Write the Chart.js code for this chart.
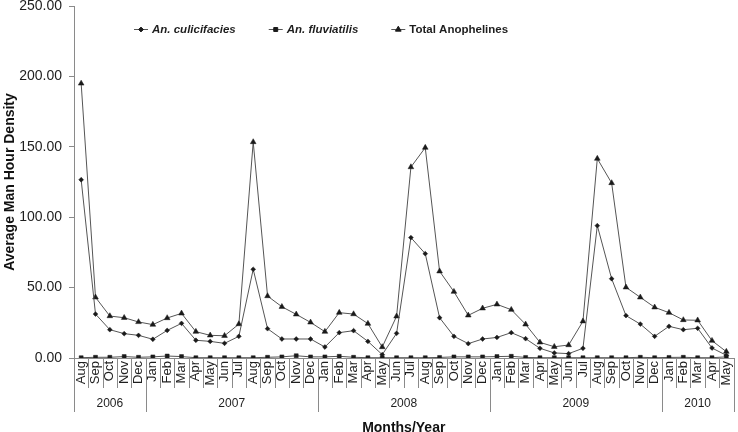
<!DOCTYPE html>
<html>
<head>
<meta charset="utf-8">
<script src="https://cdn.jsdelivr.net/npm/chart.js@4/dist/chart.umd.min.js"></script>
<style>
html,body{margin:0;padding:0;background:#ffffff;}
#wrap{width:738px;height:432px;position:relative;}
</style>
</head>
<body>
<div id="wrap"><canvas id="c" width="738" height="432"></canvas></div>
<script>
const months = [
  'Aug','Sep','Oct','Nov','Dec',
  'Jan','Feb','Mar','Apr','May','Jun','Jul','Aug','Sep','Oct','Nov','Dec',
  'Jan','Feb','Mar','Apr','May','Jun','Jul','Aug','Sep','Oct','Nov','Dec',
  'Jan','Feb','Mar','Apr','May','Jun','Jul','Aug','Sep','Oct','Nov','Dec',
  'Jan','Feb','Mar','Apr','May'
];
const yearLabels = ['2006','2007','2008','2009','2010'];
const monthsPerYear = [5, 12, 12, 12, 5];

const culicifacies = [
  126.6, 31.2, 20.1, 17.3, 16.1,
  13.3, 19.6, 24.6, 12.6, 11.8, 10.4, 15.4, 63.0, 20.8, 13.5, 13.5, 13.5,
  7.8, 18.0, 19.4, 11.8, 2.4, 17.5, 85.5, 74.1, 28.6, 15.4, 10.2, 13.5,
  14.6, 18.0, 13.7, 6.9, 3.6, 3.1, 6.9, 94.0, 56.3, 30.1, 24.1, 15.4,
  22.5, 20.1, 21.1, 7.1, 1.9
];
const fluviatilis = [
  0.2, 0.5, 0.5, 1.0, 0.5,
  0.8, 1.4, 1.0, 0.2, 0.2, 0.2, 0.2, 0.2, 0.5, 0.8, 1.6, 0.8,
  0.8, 1.2, 0.5, 0.2, 0.2, 0.2, 0.2, 0.2, 0.4, 0.8, 0.8, 0.8,
  1.0, 1.2, 0.4, 0.2, 0.2, 0.2, 0.2, 0.2, 0.2, 0.2, 0.5, 0.2,
  0.4, 0.5, 0.2, 0.2, 0.8
];
const totalAnophelines = [
  195.0, 43.1, 29.8, 28.6, 25.6,
  23.7, 28.4, 31.7, 18.7, 16.1, 15.8, 24.1, 153.4, 44.0, 36.4, 31.0, 25.3,
  18.7, 32.2, 31.2, 24.4, 7.8, 29.6, 135.6, 149.4, 61.6, 47.1, 30.3, 35.3,
  38.1, 34.3, 23.9, 11.1, 8.0, 9.2, 26.1, 141.6, 124.3, 50.2, 43.1, 36.0,
  32.2, 27.0, 26.8, 12.3, 4.5
];
const yMin = 0, yMax = 250, yStep = 50;

const FAMILY = "'Liberation Sans', Arial, Helvetica, sans-serif";
const AXIS_COLOR = '#8a8a8a';
const LINE_COLOR = '#555555';
const POINT_COLOR = '#1a1a1a';
const TEXT_COLOR = '#1e1e1e';

// Separators under the category axis and year row
const axisGroups = {
  id: 'axisGroups',
  afterDraw(chart) {
    const ctx = chart.ctx;
    const xs = chart.scales.x;
    const area = chart.chartArea;
    const n = months.length;
    const yearStarts = [];
    let acc = 0;
    monthsPerYear.forEach(c => { yearStarts.push(acc); acc += c; });
    yearStarts.push(acc);
    ctx.save();
    ctx.strokeStyle = AXIS_COLOR;
    ctx.lineWidth = 1;
    for (let i = 0; i <= n; i++) {
      let px = Math.round(xs.getPixelForValue(i - 0.5)) + 0.5;
      if (px > chart.width - 0.5) px = chart.width - 0.5;
      const isYear = yearStarts.includes(i);
      ctx.beginPath();
      ctx.moveTo(px, area.bottom);
      ctx.lineTo(px, isYear ? area.bottom + 54 : area.bottom + 30);
      ctx.stroke();
    }
    ctx.fillStyle = TEXT_COLOR;
    ctx.font = '12px ' + FAMILY;
    ctx.textAlign = 'center';
    ctx.textBaseline = 'middle';
    yearLabels.forEach((lab, k) => {
      const mid = yearStarts[k] + monthsPerYear[k] / 2 - 0.5;
      ctx.fillText(lab, xs.getPixelForValue(mid), area.bottom + 46);
    });
    ctx.restore();
  }
};

// Legend drawn inside the plot area, with line + marker samples
const innerLegend = {
  id: 'innerLegend',
  afterDraw(chart) {
    const ctx = chart.ctx;
    const area = chart.chartArea;
    const y = area.top + 23;
    let x = area.left + 60;
    ctx.save();
    chart.data.datasets.forEach((ds, i) => {
      ctx.strokeStyle = LINE_COLOR;
      ctx.lineWidth = 1;
      ctx.beginPath();
      ctx.moveTo(x, y + 0.5);
      ctx.lineTo(x + 14, y + 0.5);
      ctx.stroke();
      ctx.fillStyle = POINT_COLOR;
      ctx.strokeStyle = POINT_COLOR;
      Chart.helpers.drawPoint(ctx, {pointStyle: ds.pointStyle, radius: ds.pointRadius, rotation: 0, borderWidth: 0.5}, x + 7, y + 0.5);
      x += 18;
      ctx.fillStyle = TEXT_COLOR;
      ctx.font = (ds.italicLegend ? 'italic ' : '') + 'bold 11.5px ' + FAMILY;
      ctx.textAlign = 'left';
      ctx.textBaseline = 'middle';
      ctx.fillText(ds.label, x, y + 1);
      x += ctx.measureText(ds.label).width + 33;
    });
    ctx.restore();
  }
};

new Chart(document.getElementById('c').getContext('2d'), {
  type: 'line',
  data: {
    labels: months,
    datasets: [
      {label: 'An. culicifacies', data: culicifacies, italicLegend: true,
       borderColor: LINE_COLOR, backgroundColor: POINT_COLOR, pointBorderColor: POINT_COLOR,
       borderWidth: 1, pointStyle: 'rectRot', pointRadius: 2.4, pointBorderWidth: 0.5, tension: 0},
      {label: 'An. fluviatilis', data: fluviatilis, italicLegend: true,
       borderColor: LINE_COLOR, backgroundColor: POINT_COLOR, pointBorderColor: POINT_COLOR,
       borderWidth: 1, pointStyle: 'rect', pointRadius: 2.8, pointBorderWidth: 0.5, tension: 0},
      {label: 'Total Anophelines', data: totalAnophelines, italicLegend: false,
       borderColor: LINE_COLOR, backgroundColor: POINT_COLOR, pointBorderColor: POINT_COLOR,
       borderWidth: 1, pointStyle: 'triangle', pointRadius: 3.3, pointBorderWidth: 0.5, tension: 0}
    ]
  },
  options: {
    responsive: false,
    animation: false,
    devicePixelRatio: 1,
    layout: {padding: {left: 0, right: 0, top: 0, bottom: 0}},
    plugins: {legend: {display: false}, tooltip: {enabled: false}},
    scales: {
      x: {
        offset: true,
        grid: {display: true, drawOnChartArea: false, drawTicks: false, color: AXIS_COLOR},
        border: {display: true, color: AXIS_COLOR, width: 1},
        ticks: {autoSkip: false, maxRotation: 90, minRotation: 90, padding: 3,
                font: {family: FAMILY, size: 13}, color: TEXT_COLOR},
        title: {display: true, text: 'Months/Year', color: '#111',
                font: {family: FAMILY, size: 14, weight: 'bold', lineHeight: 0.8},
                padding: {top: 0, bottom: -2}},
        afterFit(s) { s.height = 74; s.paddingLeft = 0; s.paddingRight = 0; }
      },
      y: {
        min: yMin, max: yMax,
        grid: {display: true, drawOnChartArea: false, drawTicks: true, tickLength: 5, color: AXIS_COLOR},
        border: {display: true, color: AXIS_COLOR, width: 1},
        ticks: {stepSize: yStep, padding: 7, callback: v => Number(v).toFixed(2),
                font: {family: FAMILY, size: 14}, color: TEXT_COLOR},
        title: {display: true, text: 'Average Man Hour Density', color: '#111',
                font: {family: FAMILY, size: 14, weight: 'bold', lineHeight: 1},
                padding: {top: 3, bottom: 0}},
        afterFit(s) { s.width = 74; s.paddingTop = 6; s.paddingBottom = 0; }
      }
    }
  },
  plugins: [axisGroups, innerLegend]
});
</script>
</body>
</html>
